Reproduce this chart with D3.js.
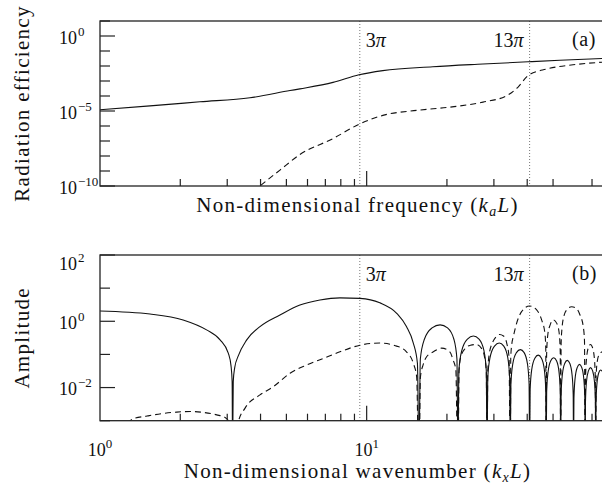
<!DOCTYPE html>
<html>
<head>
<meta charset="utf-8">
<script src="https://cdn.jsdelivr.net/npm/d3@7"></script>
<style>
body { margin: 0; background: #fff; }
svg text { font-family: "Liberation Serif", "Times New Roman", serif; fill: #111; }
</style>
</head>
<body>
<svg id="chart" width="602" height="489" font-family="Liberation Serif"></svg>
<script>
"use strict";

// (a) radiation efficiency vs k_a L  [k, value]
var effSolid = [
    [1, 1.2e-5], [1.54, 2.2e-5], [2.37, 4.1e-5], [3.65, 7.6e-5], [5.16, 2.3e-4],
    [5.62, 3.0e-4], [7.48, 8.1e-4], [9.36, 2.6e-3], [11.5, 4.9e-3], [17.7, 8.9e-3],
    [27.3, 1.35e-2], [40.3, 1.9e-2], [53, 2.4e-2], [76.5, 3.2e-2]
];
var effDashed = [
    [3.75, 4e-11], [3.98, 1e-10], [4.73, 1.15e-9], [5.62, 1.26e-8], [7.48, 1.45e-7],
    [9.36, 1.3e-6], [11.5, 5.1e-6], [15.4, 1.1e-5], [20.5, 1.8e-5], [27.3, 3.9e-5],
    [33.6, 1.07e-4], [36.9, 3.8e-4], [40.3, 2.3e-3], [47.4, 6.3e-3], [59.4, 1.2e-2],
    [76.5, 1.8e-2]
];

// (b) amplitude vs k_x L  [k, value]
var ampSolid = [
    [1, 2.05], [1.54, 1.66], [2.05, 1.1], [2.51, 0.55], [2.82, 0.275], [3.03, 0.107],
    [3.1, 0.045], [3.13, 0.015], [3.1416, 1e-4],
    [3.16, 0.015], [3.2, 0.04], [3.3, 0.09], [3.55, 0.275], [3.98, 0.69], [4.73, 1.55],
    [5.62, 3.1], [6.68, 4.4], [7.94, 5.1], [9.44, 4.9], [11.2, 3.6], [12.96, 1.74],
    [14.1, 0.69], [14.96, 0.22], [15.5, 0.054], [15.708, 1e-4],
    [15.896, 0.073], [16.462, 0.287], [17.593, 0.631], [18.85, 0.78], [20.106, 0.631],
    [21.237, 0.287], [21.803, 0.073], [21.991, 1e-4],
    [22.179, 0.034], [22.745, 0.132], [23.876, 0.291], [25.133, 0.36], [26.389, 0.291],
    [27.52, 0.132], [28.086, 0.034], [28.274, 1e-4],
    [28.462, 0.021], [29.028, 0.081], [30.159, 0.178], [31.416, 0.22], [32.673, 0.178],
    [33.804, 0.081], [34.37, 0.021], [34.558, 1e-4],
    [34.746, 0.013], [35.312, 0.052], [36.443, 0.113], [37.699, 0.14], [38.956, 0.113],
    [40.087, 0.052], [40.653, 0.013], [40.841, 1e-4],
    [41.029, 0.0089], [41.595, 0.035], [42.726, 0.077], [43.982, 0.095], [45.239, 0.077],
    [46.37, 0.035], [46.936, 0.0089], [47.124, 1e-4],
    [47.312, 0.0074], [47.878, 0.029], [49.009, 0.064], [50.265, 0.079], [51.522, 0.064],
    [52.653, 0.029], [53.219, 0.0074], [53.407, 1e-4],
    [53.595, 0.0062], [54.161, 0.024], [55.292, 0.053], [56.549, 0.066], [57.805, 0.053],
    [58.936, 0.024], [59.502, 0.0062], [59.69, 1e-4],
    [59.878, 0.0047], [60.444, 0.018], [61.575, 0.04], [62.832, 0.05], [64.088, 0.04],
    [65.219, 0.018], [65.785, 0.0047], [65.973, 1e-4],
    [66.161, 0.0038], [66.727, 0.015], [67.858, 0.032], [69.115, 0.04], [70.371, 0.032],
    [71.502, 0.015], [72.069, 0.0038], [72.257, 1e-4],
    [72.445, 0.0032], [73.011, 0.0125], [74.142, 0.0275], [75.398, 0.034], [76.5, 0.031]
];
var ampDashed = [
    [1.27, 8e-4], [1.33, 1.15e-3], [1.5, 1.38e-3], [1.73, 1.66e-3], [1.94, 1.82e-3],
    [2.18, 1.9e-3], [2.44, 1.78e-3], [2.74, 1.5e-3], [2.94, 1.26e-3], [3.05, 9e-4],
    [3.1416, 1e-5],
    [3.3, 9e-4], [3.5, 2.4e-3], [3.98, 6e-3], [4.47, 0.0107], [5.16, 0.027], [5.96, 0.048],
    [6.88, 0.076], [7.94, 0.12], [9.44, 0.19], [11.2, 0.22], [12.96, 0.178], [14.1, 0.12],
    [14.96, 0.054], [15.4, 0.021], [15.708, 1e-5],
    [15.9, 0.02], [16.3, 0.05], [16.78, 0.085], [17.78, 0.12], [19.1, 0.155], [20.5, 0.12],
    [21.1, 0.068], [21.6, 0.034], [21.991, 1e-5],
    [22.2, 0.03], [22.5, 0.08], [23.4, 0.15], [24.5, 0.19], [25.8, 0.2], [27.0, 0.15],
    [27.7, 0.08], [28.1, 0.03], [28.274, 1e-5],
    [28.45, 0.03], [28.8, 0.1], [29.6, 0.22], [30.5, 0.33], [31.5, 0.4], [32.6, 0.36],
    [33.6, 0.2], [34.2, 0.08], [34.558, 1e-5],
    [34.7, 0.08], [35.0, 0.2], [35.5, 0.35], [36.5, 0.87], [38.1, 1.95], [40.8, 2.9],
    [43.4, 2.2], [45.3, 1.1], [46.6, 0.44], [46.95, 0.15], [47.124, 1e-5],
    [47.3, 0.1], [47.8, 0.4], [48.7, 0.75], [50.2, 1.1], [51.7, 0.85], [52.7, 0.45],
    [53.2, 0.12], [53.407, 1e-5],
    [53.6, 0.2], [54.0, 0.6], [55.0, 1.5], [56.2, 2.2], [58.7, 2.75], [61.2, 2.45],
    [63.1, 1.55], [64.9, 0.69], [65.6, 0.25], [65.973, 1e-5],
    [66.2, 0.02], [66.8, 0.08], [68.0, 0.17], [69.1, 0.2], [70.3, 0.16], [71.5, 0.07],
    [72.05, 0.015], [72.257, 1e-5],
    [72.5, 0.02], [73.2, 0.06], [74.5, 0.1], [76.5, 0.12]
];

var markK = [9.4248, 40.8407];
var markText = ["3", "13"];
var xTicks = [2, 3, 4, 5, 6, 7, 8, 9, 10, 20, 30, 40, 50, 70];
var xMajor = [10];
var xLabelExp = [0, 1];
var effYExp = [1, 0, -1, -2, -3, -4, -5, -6, -7, -8, -9, -10];
var effYLabelExp = [0, -5, -10];
var ampYExp = [2, 1, 0, -1, -2, -3];
var ampYLabelExp = [2, 0, -2];

var svg = d3.select("#chart");
var left = 100, plotW = 502;
var x = d3.scaleLog().domain([1, 76.3]).range([0, plotW]);

function expStr(e) {
    return e < 0 ? "\u2212" + (-e) : String(e);
}

function drawPanel(p) {
    var h = p.bottom - p.top;
    var g = svg.append("g").attr("transform", "translate(" + left + "," + p.top + ")");
    var y = d3.scaleLog().domain(p.yDomain).range([h, 0]);

    var clipId = "clip-" + p.id;
    g.append("clipPath").attr("id", clipId)
        .append("rect").attr("width", plotW).attr("height", h);

    // dotted guide lines at 3pi, 13pi
    g.selectAll("line.mark").data(markK).enter().append("line")
        .attr("class", "mark")
        .attr("x1", function (d) { return x(d); })
        .attr("x2", function (d) { return x(d); })
        .attr("y1", 0).attr("y2", h)
        .attr("stroke", "#777").attr("stroke-width", 1)
        .attr("stroke-dasharray", "1,2");

    var line = d3.line()
        .x(function (d) { return x(d[0]); })
        .y(function (d) { return y(d[1]); })
        .curve(d3.curveMonotoneX);

    var cg = g.append("g").attr("clip-path", "url(#" + clipId + ")");
    cg.append("path").datum(p.solid).attr("d", line)
        .attr("fill", "none").attr("stroke", "#111").attr("stroke-width", 1.1);
    cg.append("path").datum(p.dashed).attr("d", line)
        .attr("fill", "none").attr("stroke", "#111").attr("stroke-width", 1.1)
        .attr("stroke-dasharray", "6,4");

    // frame (right side falls outside the picture)
    g.append("rect").attr("width", plotW + 2).attr("height", h)
        .attr("fill", "none").attr("stroke", "#222").attr("stroke-width", 1.3);

    // x ticks (inside, from bottom)
    g.selectAll("line.xt").data(xTicks).enter().append("line")
        .attr("class", "xt")
        .attr("x1", function (d) { return x(d); })
        .attr("x2", function (d) { return x(d); })
        .attr("y1", h)
        .attr("y2", function (d) { return h - (xMajor.indexOf(d) >= 0 ? 15 : 7); })
        .attr("stroke", "#222").attr("stroke-width", 1.2);

    // y ticks (inside, from left)
    g.selectAll("line.yt").data(p.yExp).enter().append("line")
        .attr("class", "yt")
        .attr("x1", 0)
        .attr("x2", function (d) { return p.yLabelExp.indexOf(d) >= 0 ? 15 : 10; })
        .attr("y1", function (d) { return y(Math.pow(10, d)); })
        .attr("y2", function (d) { return y(Math.pow(10, d)); })
        .attr("stroke", "#222").attr("stroke-width", 1.2);

    // y tick labels: "10" right aligned, exponent after
    p.yLabelExp.forEach(function (e) {
        var yy = y(Math.pow(10, e)) + 7.5;
        if (Math.pow(10, e) >= p.yDomain[1]) yy += 7;
        g.append("text").attr("x", -23).attr("y", yy)
            .attr("text-anchor", "end").style("font-size", "18px").text("10");
        g.append("text").attr("x", -22).attr("y", yy - 8)
            .style("font-size", "13px").text(expStr(e));
    });

    // x tick labels
    if (p.xLabels) {
        xLabelExp.forEach(function (e) {
            var t = g.append("text").attr("x", x(Math.pow(10, e))).attr("y", h + 35)
                .attr("text-anchor", "middle").style("font-size", "18px");
            t.append("tspan").text("10");
            t.append("tspan").attr("dy", -8).style("font-size", "13px").text(expStr(e));
        });
    }

    // annotations
    markK.forEach(function (k, i) {
        var t = g.append("text").attr("y", 25.5).style("font-size", "20px")
            .attr("x", i === 0 ? x(k) + 6 : x(k) - 6)
            .attr("text-anchor", i === 0 ? "start" : "end");
        t.append("tspan").text(markText[i]);
        t.append("tspan").style("font-style", "italic").text("\u03c0");
    });
    g.append("text").attr("x", 472).attr("y", 24.5).style("font-size", "20px")
        .style("letter-spacing", "0.6px").text(p.tag);

    // x title
    var xt = g.append("text").attr("x", 257.5).attr("y", p.xTitleY)
        .attr("text-anchor", "middle").style("font-size", "21px")
        .style("letter-spacing", "1.3px");
    xt.append("tspan").text(p.xTitle + " (");
    xt.append("tspan").style("font-style", "italic").text("k");
    xt.append("tspan").style("font-style", "italic").style("font-size", "14px")
        .attr("dy", 4).text(p.xSub);
    xt.append("tspan").style("font-style", "italic").attr("dy", -4).text("L");
    xt.append("tspan").text(")");

    // y title
    svg.append("text")
        .attr("transform", "translate(29," + (p.top + h / 2) + ") rotate(-90)")
        .attr("text-anchor", "middle").style("font-size", "21px")
        .style("letter-spacing", "1.3px").text(p.yTitle);
}

drawPanel({
    id: "a", top: 21, bottom: 186, yDomain: [1e-10, 1e1],
    yExp: effYExp, yLabelExp: effYLabelExp,
    solid: effSolid, dashed: effDashed, tag: "(a)",
    xLabels: false, xTitle: "Non-dimensional frequency", xSub: "a", xTitleY: 191,
    yTitle: "Radiation efficiency"
});
drawPanel({
    id: "b", top: 255, bottom: 420.7, yDomain: [1e-3, 1e2],
    yExp: ampYExp, yLabelExp: ampYLabelExp,
    solid: ampSolid, dashed: ampDashed, tag: "(b)",
    xLabels: true, xTitle: "Non-dimensional wavenumber", xSub: "x", xTitleY: 223,
    yTitle: "Amplitude"
});
</script>
</body>
</html>
